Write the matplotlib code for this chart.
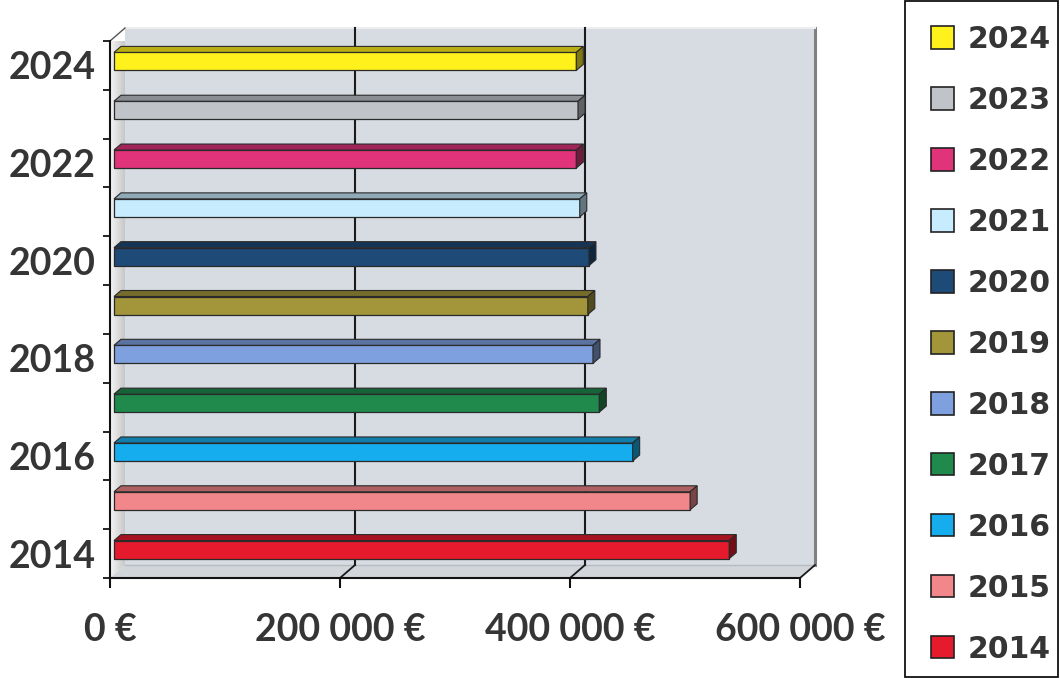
import numpy as np
import matplotlib.pyplot as plt
import matplotlib.colors as mcolors
from matplotlib.patches import Polygon, Rectangle, Patch

# Data (bottom to top)
years = ['2014', '2015', '2016', '2017', '2018', '2019', '2020', '2021', '2022', '2023', '2024']
values = [535000, 501000, 451000, 422000, 416500, 412000, 413000, 405000, 402000, 403500, 402000]
colors = ['#E51B2D', '#F1878A', '#16ADEE', '#1F8A4C', '#7FA0DE', '#A2953A',
          '#1E4A78', '#C6ECFD', '#E0337A', '#C0C4C9', '#FFF21C']
xticks = [0, 200000, 400000, 600000]
xlabels = ['0 €', '200 000 €', '400 000 €', '600 000 €']
ylabel_years = ['2014', '2016', '2018', '2020', '2022', '2024']

xmax = 600000
txt_color = '#353535'

fig = plt.figure(figsize=(10.6, 6.78), dpi=100)
ax = fig.add_axes([110/1060, 100/678, 690/1060, 537/678])
ax.set_xlim(0, xmax)
ax.set_ylim(-0.5, 10.5)
ax.patch.set_visible(False)

# pixel -> data conversion
px_x = 690 / xmax
px_y = 537 / 11.0
dxw, dyw = 15 / px_x, 13 / px_y          # wall depth

# back wall
ax.add_patch(Rectangle((dxw, -0.5 + dyw), xmax, 11, facecolor='#D7DBE2',
                       edgecolor='none', zorder=0, clip_on=False))
ax.plot([xmax + dxw] * 2, [-0.5 + dyw, 10.5 + dyw], color='#808080', lw=2.2,
        clip_on=False, zorder=1)
ax.plot([dxw, xmax + dxw], [10.5 + dyw] * 2, color='#EEEEEE', lw=1.5,
        clip_on=False, zorder=1)

# left wall with gradient
lw_poly = Polygon([(0, -0.5), (0, 10.5), (dxw, 10.5 + dyw), (dxw, -0.5 + dyw)],
                  closed=True, facecolor='none', edgecolor='none', clip_on=False)
ax.add_patch(lw_poly)
grad = np.linspace(0.96, 0.78, 32)[None, :]
im = ax.imshow(grad, cmap='gray', vmin=0, vmax=1, aspect='auto',
               extent=[0, dxw, -0.5, 10.5 + dyw], zorder=1, clip_on=True)
im.set_clip_path(lw_poly)
ax.plot([0, dxw], [10.5, 10.5 + dyw], color='#555555', lw=1.0, clip_on=False)

# floor
ax.add_patch(Polygon([(0, -0.5), (xmax, -0.5), (xmax + dxw, -0.5 + dyw), (dxw, -0.5 + dyw)],
                     closed=True, facecolor='#D2D5DA', edgecolor='none',
                     clip_on=False, zorder=1))
ax.plot([dxw, xmax + dxw], [-0.5 + dyw] * 2, color='#B8BBC0', lw=1.0,
        clip_on=False, zorder=1)

# gridlines on back wall + floor diagonals
for v in xticks[1:]:
    if v < xmax:
        ax.plot([v + dxw] * 2, [-0.5 + dyw, 10.5 + dyw], color='#1a1a1a', lw=1.5,
                clip_on=False, zorder=2)
    ax.plot([v, v + dxw], [-0.5, -0.5 + dyw], color='#1a1a1a', lw=1.3,
            clip_on=False, zorder=2)

# bars with a fake 3D look
bo_x, bo_y = 4 / px_x, 4 / px_y
h = 18 / px_y
bd_x, bd_y = 7 / px_x, 6 / px_y
edge = '#2a2a2a'
for i, (v, c) in enumerate(zip(values, colors)):
    y = i + bo_y
    rgb = np.array(mcolors.to_rgb(c))
    ax.barh(y, v, left=bo_x, height=h, color=c, edgecolor=edge, lw=0.9, zorder=4)
    yt, yb = y + h / 2, y - h / 2
    x1 = bo_x + v
    ax.add_patch(Polygon([(bo_x, yt), (x1, yt), (x1 + bd_x, yt + bd_y), (bo_x + bd_x, yt + bd_y)],
                         closed=True, facecolor=rgb * 0.72, edgecolor=edge, lw=0.8,
                         zorder=4, clip_on=False))
    ax.add_patch(Polygon([(x1, yb), (x1, yt), (x1 + bd_x, yt + bd_y), (x1 + bd_x, yb + bd_y)],
                         closed=True, facecolor=rgb * 0.5, edgecolor=edge, lw=0.8,
                         zorder=4, clip_on=False))

# axes styling
for s in ['top', 'right']:
    ax.spines[s].set_visible(False)
for s in ['left', 'bottom']:
    ax.spines[s].set_color('#111111')
    ax.spines[s].set_linewidth(1.5)
    ax.spines[s].set_zorder(5)

ax.set_xticks(xticks)
ax.set_xticklabels(xlabels, fontsize=27, color=txt_color, family='Lato', weight='bold')
ax.tick_params(axis='x', direction='out', length=7, width=1.5, pad=18, color='#111111')

ax.set_yticks(np.arange(-0.5, 11, 1.0))
ax.set_yticklabels([])
ax.tick_params(axis='y', which='major', direction='out', length=5, width=1.3, color='#111111')
ax.set_yticks([years.index(yl) for yl in ylabel_years], minor=True)
ax.set_yticklabels(ylabel_years, minor=True, fontsize=27, color=txt_color,
                   family='Lato', weight='bold')
ax.tick_params(axis='y', which='minor', length=0, pad=10)

# legend (frame drawn separately)
handles = [Patch(facecolor=c, edgecolor='#222222', lw=1.2, label=yr)
           for yr, c in zip(years, colors)][::-1]
leg = fig.legend(handles=handles, loc='upper left', bbox_to_anchor=(931/1060, 1 - 25/678),
                 frameon=False,
                 prop={'family': 'DejaVu Sans', 'size': 21.5, 'weight': 'bold'},
                 handlelength=0.78, handleheight=0.78, handletextpad=0.43,
                 labelspacing=1.07, borderpad=0, borderaxespad=0)
for t in leg.get_texts():
    t.set_color(txt_color)
fig.patches.append(Rectangle((905/1060, 1/678), 153/1060, 676/678, transform=fig.transFigure,
                             fill=False, edgecolor='#111111', lw=1.3))

plt.savefig('out.png', dpi=100)
